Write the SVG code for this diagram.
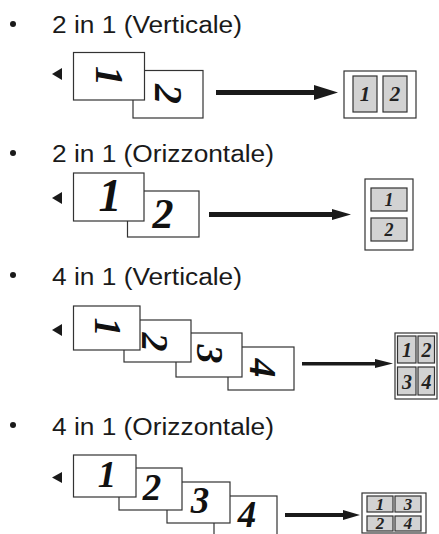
<svg xmlns="http://www.w3.org/2000/svg" width="439" height="534" viewBox="0 0 439 534">
<style>
.hd{font-family:"Liberation Sans",Arial,sans-serif;font-size:23.5px;fill:#1a1a1a}
.bl{fill:#1a1a1a}
.pg{fill:#fff;stroke:#333;stroke-width:1.2}
.dg{font-family:"Liberation Serif","Times New Roman",serif;font-weight:bold;font-style:italic;fill:#111;text-anchor:middle}
.ob{fill:#fff;stroke:#333;stroke-width:1.2}
.tl{fill:#d2d2d2;stroke:#333;stroke-width:1.2}
.td{font-family:"Liberation Serif","Times New Roman",serif;font-weight:bold;font-style:italic;fill:#222;text-anchor:middle}
.ar{fill:#1a1a1a}
.tri{fill:#1a1a1a}
</style>
<rect width="439" height="534" fill="#fff"/>

<g id="sec1">
<circle class="bl" cx="13" cy="24" r="3"/>
<text class="hd" x="52" y="33" textLength="190" lengthAdjust="spacingAndGlyphs">2 in 1 (Verticale)</text>
<polygon class="tri" points="52,74 62,68 62,80"/>
<g id="s1p2"><rect class="pg" x="133" y="70.5" width="70" height="47.5"/>
<text class="dg" font-size="40" transform="translate(169,94) rotate(90)" x="0" y="13.6">2</text></g>
<g id="s1p1"><rect class="pg" x="73.5" y="52.5" width="71" height="47.5"/>
<text class="dg" font-size="40" transform="translate(110,76) rotate(90)" x="0" y="13.6">1</text></g>
<g id="s1out"><rect class="ob" x="344" y="71" width="72" height="47"/>
<rect class="tl" x="353" y="76" width="24" height="36"/>
<rect class="tl" x="383" y="76" width="24" height="36"/>
<text class="td" font-size="21" x="365" y="101">1</text>
<text class="td" font-size="21" x="395" y="101">2</text></g>
</g>

<g id="sec2">
<circle class="bl" cx="13" cy="153" r="3"/>
<text class="hd" x="52" y="162" textLength="222" lengthAdjust="spacingAndGlyphs">2 in 1 (Orizzontale)</text>
<polygon class="tri" points="52,198 62,192 62,204"/>
<g id="s2p2"><rect class="pg" x="127.5" y="191" width="71.5" height="46"/>
<text class="dg" font-size="42" x="163" y="228">2</text></g>
<g id="s2p1"><rect class="pg" x="73.5" y="173" width="70.5" height="48"/>
<text class="dg" font-size="46" x="110" y="211">1</text></g>
<g id="s2out"><rect class="ob" x="365" y="179" width="48" height="71"/>
<rect class="tl" x="371" y="188" width="36" height="23"/>
<rect class="tl" x="371" y="218" width="36" height="23"/>
<text class="td" font-size="18" x="389" y="205.5">1</text>
<text class="td" font-size="18" x="389" y="235.5">2</text></g>
</g>

<g id="sec3">
<circle class="bl" cx="13" cy="275" r="3"/>
<text class="hd" x="52" y="285" textLength="190" lengthAdjust="spacingAndGlyphs">4 in 1 (Verticale)</text>
<polygon class="tri" points="52,330 62,324 62,336"/>
<g id="s3p4"><rect class="pg" x="228" y="347" width="66" height="43"/>
<text class="dg" font-size="38" transform="translate(263,368) rotate(90)" x="0" y="13">4</text></g>
<g id="s3p3"><rect class="pg" x="176" y="333" width="66" height="44"/>
<text class="dg" font-size="38" transform="translate(210,354) rotate(90)" x="0" y="13">3</text></g>
<g id="s3p2"><rect class="pg" x="124" y="320" width="67" height="42"/>
<text class="dg" font-size="38" transform="translate(155,342) rotate(90)" x="0" y="13">2</text></g>
<g id="s3p1"><rect class="pg" x="73.5" y="306" width="66.5" height="44"/>
<text class="dg" font-size="38" transform="translate(108,327) rotate(90)" x="0" y="13">1</text></g>
<g id="s3out"><rect class="ob" x="395" y="333" width="42" height="66"/>
<rect class="tl" x="397.5" y="336" width="18.5" height="27"/>
<rect class="tl" x="418" y="336" width="16.5" height="27"/>
<rect class="tl" x="397.5" y="367" width="18.5" height="28"/>
<rect class="tl" x="418" y="367" width="16.5" height="28"/>
<text class="td" font-size="20" x="407" y="357">1</text>
<text class="td" font-size="20" x="426.5" y="357">2</text>
<text class="td" font-size="20" x="407" y="389">3</text>
<text class="td" font-size="20" x="426.5" y="389">4</text></g>
</g>

<g id="sec4">
<circle class="bl" cx="13" cy="425" r="3"/>
<text class="hd" x="52" y="435" textLength="222" lengthAdjust="spacingAndGlyphs">4 in 1 (Orizzontale)</text>
<polygon class="tri" points="52,477.5 62,472 62,483"/>
<g id="s4p4"><rect class="pg" x="214" y="496" width="63" height="45"/>
<text class="dg" font-size="37" x="247" y="527">4</text></g>
<g id="s4p3"><rect class="pg" x="167" y="482" width="63" height="41"/>
<text class="dg" font-size="37" x="200" y="513">3</text></g>
<g id="s4p2"><rect class="pg" x="119" y="468" width="63" height="42"/>
<text class="dg" font-size="37" x="152" y="500">2</text></g>
<g id="s4p1"><rect class="pg" x="73.5" y="455" width="62.5" height="42"/>
<text class="dg" font-size="37" x="107" y="487">1</text></g>
<g id="s4out"><rect class="ob" x="362" y="493" width="64" height="40"/>
<rect class="tl" x="367" y="496" width="26" height="16"/>
<rect class="tl" x="395" y="496" width="26" height="16"/>
<rect class="tl" x="367" y="516" width="26" height="15"/>
<rect class="tl" x="395" y="516" width="26" height="15"/>
<text class="td" font-size="17" x="380" y="509.5">1</text>
<text class="td" font-size="17" x="408" y="509.5">3</text>
<text class="td" font-size="17" x="380" y="529">2</text>
<text class="td" font-size="17" x="408" y="529">4</text></g>
</g>

<g id="connectors">
<polygon class="ar" points="216,90 314,90 314,85 338,92.5 314,100 314,95 216,95"/>
<polygon class="ar" points="209,212 332,212 332,209 351,214.5 332,220 332,217 209,217"/>
<polygon class="ar" points="302,362 375,362 375,359 393,363.5 375,368 375,365.5 302,365.5"/>
<polygon class="ar" points="285,513 343,513 343,510 360,515 343,520 343,517 285,517"/>
</g>
</svg>
